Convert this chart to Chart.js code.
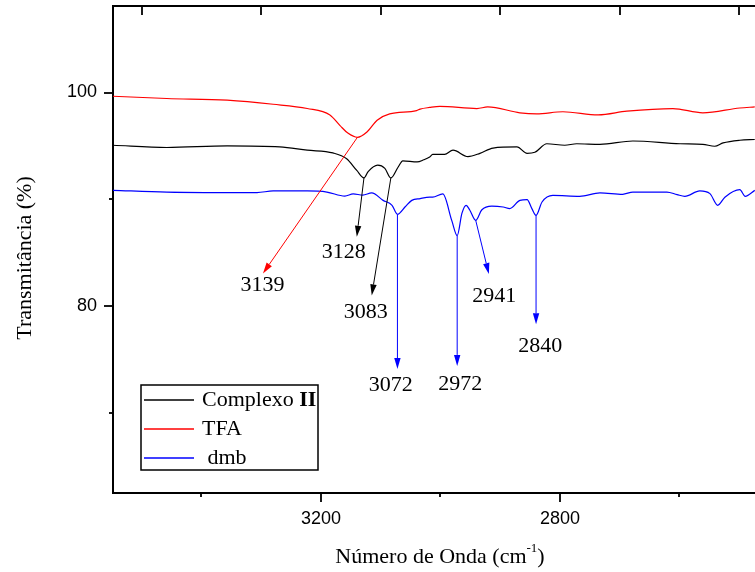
<!DOCTYPE html>
<html>
<head>
<meta charset="utf-8">
<script src="https://cdn.jsdelivr.net/npm/chart.js@4.4.1/dist/chart.umd.min.js"></script>
<style>
  html, body { margin: 0; padding: 0; background: #fff; }
  canvas { display: block; }
</style>
</head>
<body>
<canvas id="ir" width="755" height="572"></canvas>
<script>
// IR spectra, 3550-2470 cm-1 region (wavenumber axis reversed)

// --- data ---
const wnComplexo = [3548, 3458, 3357, 3269, 3223, 3180, 3157, 3140, 3128, 3121, 3105, 3093, 3083, 3071, 3063,
  3039, 3028, 3018, 3013, 2993, 2979, 2954, 2934, 2912, 2872, 2855, 2842, 2822, 2792, 2772, 2733, 2678,
  2599, 2561, 2541, 2527, 2499, 2474];
const tComplexo = [95.06, 94.85, 95.0, 94.9, 94.6, 94.34, 93.8, 92.7, 92.0, 92.6, 93.2, 92.9, 92.0, 93.0, 93.6,
  93.5, 93.7, 93.97, 94.2, 94.2, 94.6, 94.0, 94.3, 94.8, 94.9, 94.3, 94.4, 95.2, 95.06, 95.2, 95.15, 95.46,
  95.2, 95.15, 94.97, 95.28, 95.53, 95.6];

const wnTFA = [3548, 3458, 3357, 3280, 3223, 3185, 3168, 3155, 3139, 3123, 3106, 3085, 3040, 3034, 3018,
  3001, 2939, 2921, 2867, 2839, 2795, 2736, 2688, 2611, 2561, 2499, 2474];
const tTFA = [99.65, 99.44, 99.28, 98.9, 98.5, 97.9, 96.9, 96.2, 95.8, 96.3, 97.4, 98.0, 98.3, 98.45, 98.6,
  98.7, 98.5, 98.65, 98.1, 98.0, 98.2, 97.9, 98.25, 98.5, 98.1, 98.55, 98.65];

const wnDmb = [3548, 3458, 3307, 3280, 3223, 3190, 3160, 3146, 3130, 3115, 3096, 3081, 3072, 3059, 3048,
  3034, 3018, 3013, 2996, 2981, 2972, 2964, 2957, 2951, 2941, 2931, 2914, 2895, 2884, 2867, 2855, 2847,
  2840, 2830, 2812, 2767, 2733, 2695, 2678, 2621, 2604, 2591, 2566, 2549, 2536, 2524, 2499, 2490, 2474];
const tDmb = [90.84, 90.68, 90.63, 90.78, 90.78, 90.68, 90.3, 90.5, 90.4, 90.6, 89.9, 89.44, 88.6, 89.3, 89.9,
  90.07, 90.2, 90.2, 90.5, 88.0, 86.6, 88.7, 89.44, 89.0, 88.03, 89.0, 89.37, 89.28, 89.13, 89.9, 89.97, 89.13,
  88.5, 89.75, 90.37, 90.28, 90.6, 90.47, 90.68, 90.68, 90.44, 90.28, 90.78, 90.53, 89.44, 90.2, 90.9, 90.28, 90.84];

const seriesNames = ['Complexo II', 'TFA', ' dmb'];

// peak annotations (data units)
const peakLabels = ['3139', '3128', '3083', '3072', '2972', '2941', '2840'];
const peakSeries = [1, 0, 0, 2, 2, 2, 2];
const peakWn     = [3139, 3128, 3083, 3072, 2972, 2941, 2840];
const peakT      = [95.8, 92.0, 92.0, 88.6, 86.6, 88.03, 88.5];
const arrowEndWn = [3297, 3140, 3115, 3072, 2972, 2919, 2840];
const arrowEndT  = [83.06, 86.5, 81.0, 74.1, 74.4, 83.0, 78.3];
const labelWn    = [3298, 3162, 3125, 3083, 2967, 2910, 2833];
const labelT     = [82.0, 85.0, 79.4, 72.55, 72.7, 80.9, 76.2];

// axes
const xMin = 2473.6, xMax = 3548;
const yMin = 62.5, yMax = 108.1;
const xMajor = [3200, 2800];
const yMajor = [100, 80];
const xTopTicks = [3500, 3300, 3100, 2900, 2700, 2500];

const COLORS = ['#000000', '#ff0000', '#0000ff'];
const SERIF = '"Liberation Serif", "Times New Roman", serif';
const SANS = '"Liberation Sans", Arial, sans-serif';

const toPoints = (xs, ys) => xs.map((x, i) => ({ x, y: ys[i] }));

// outward ticks (bottom/left) and inward ticks on the top axis
const tickPlugin = {
  id: 'irTicks',
  afterDraw(chart) {
    const { ctx, chartArea: a, scales } = chart;
    ctx.save();
    ctx.strokeStyle = '#000';
    ctx.lineWidth = 1.8;
    const seg = (x0, y0, x1, y1) => { ctx.beginPath(); ctx.moveTo(x0, y0); ctx.lineTo(x1, y1); ctx.stroke(); };
    scales.x.ticks.forEach(t => {
      const px = Math.round(scales.x.getPixelForValue(t.value));
      seg(px, a.bottom, px, a.bottom + (xMajor.includes(t.value) ? 9 : 4));
    });
    scales.xTop.ticks.forEach(t => {
      const px = Math.round(scales.xTop.getPixelForValue(t.value));
      seg(px, a.top, px, a.top + 9);
    });
    scales.y.ticks.forEach(t => {
      const py = Math.round(scales.y.getPixelForValue(t.value));
      seg(a.left - (yMajor.includes(t.value) ? 9 : 4), py, a.left, py);
    });
    ctx.restore();
  }
};

// peak arrows + labels
const arrowPlugin = {
  id: 'irArrows',
  afterDatasetsDraw(chart) {
    const { ctx, scales: { x, y } } = chart;
    ctx.save();
    peakLabels.forEach((lab, i) => {
      const col = COLORS[peakSeries[i]];
      const x0 = x.getPixelForValue(peakWn[i]), y0 = y.getPixelForValue(peakT[i]);
      const x1 = x.getPixelForValue(arrowEndWn[i]), y1 = y.getPixelForValue(arrowEndT[i]);
      const ang = Math.atan2(y1 - y0, x1 - x0);
      const hl = 11, hw = 3.2;
      const bx = x1 - hl * Math.cos(ang), by = y1 - hl * Math.sin(ang);
      ctx.strokeStyle = col; ctx.fillStyle = col; ctx.lineWidth = 1;
      ctx.beginPath(); ctx.moveTo(x0, y0); ctx.lineTo(bx, by); ctx.stroke();
      ctx.beginPath();
      ctx.moveTo(x1, y1);
      ctx.lineTo(bx + hw * Math.sin(ang), by - hw * Math.cos(ang));
      ctx.lineTo(bx - hw * Math.sin(ang), by + hw * Math.cos(ang));
      ctx.closePath(); ctx.fill();

      ctx.fillStyle = '#000';
      ctx.font = '22px ' + SERIF;
      ctx.textAlign = 'center'; ctx.textBaseline = 'middle';
      ctx.fillText(lab, x.getPixelForValue(labelWn[i]), y.getPixelForValue(labelT[i]));
    });
    ctx.restore();
  }
};

// axis titles and boxed legend
const decoPlugin = {
  id: 'irDeco',
  afterDraw(chart) {
    const { ctx, chartArea: a } = chart;
    ctx.save();
    ctx.fillStyle = '#000';
    ctx.textBaseline = 'middle';

    // y title
    ctx.save();
    ctx.translate(25, 258);
    ctx.rotate(-Math.PI / 2);
    ctx.font = '22px ' + SERIF;
    ctx.textAlign = 'center';
    ctx.fillText('Transmitância (%)', 0, 0);
    ctx.restore();

    // x title with superscript
    const p1 = 'Número de Onda (cm', sup = '-1', p2 = ')';
    ctx.font = '22px ' + SERIF;
    const w1 = ctx.measureText(p1).width, w3 = ctx.measureText(p2).width;
    ctx.font = '13px ' + SERIF;
    const w2 = ctx.measureText(sup).width;
    const cx = (a.left + a.right) / 2 + 6, cy = 557;
    let tx = cx - (w1 + w2 + w3) / 2;
    ctx.textAlign = 'left';
    ctx.font = '22px ' + SERIF;
    ctx.fillText(p1, tx, cy); tx += w1;
    ctx.font = '13px ' + SERIF;
    ctx.fillText(sup, tx, cy - 8); tx += w2;
    ctx.font = '22px ' + SERIF;
    ctx.fillText(p2, tx, cy);

    // legend
    const lx = a.left + 28, ly = 385, lw = 177, lh = 85, rowH = 29;
    ctx.strokeStyle = '#000'; ctx.lineWidth = 1.5;
    ctx.strokeRect(lx, ly, lw, lh);
    chart.data.datasets.forEach((ds, i) => {
      const ry = ly + 15 + i * rowH;
      ctx.strokeStyle = ds.borderColor; ctx.lineWidth = 1.3;
      ctx.beginPath(); ctx.moveTo(lx + 3, ry); ctx.lineTo(lx + 53, ry); ctx.stroke();
      const name = ds.label;
      ctx.fillStyle = '#000';
      let nx = lx + 61;
      if (name.endsWith(' II')) {
        const base = name.slice(0, -2);
        ctx.font = '22px ' + SERIF;
        ctx.fillText(base, nx, ry); nx += ctx.measureText(base).width;
        ctx.font = 'bold 22px ' + SERIF;
        ctx.fillText('II', nx, ry);
      } else {
        ctx.font = '22px ' + SERIF;
        ctx.fillText(name, nx, ry);
      }
    });
    ctx.restore();
  }
};

const lineDs = (label, pts, color) => ({
  label, data: pts, borderColor: color, backgroundColor: color,
  borderWidth: 1.2, pointRadius: 0, cubicInterpolationMode: 'monotone', fill: false
});

// drop the label-overflow padding Chart.js adds around each scale
const noPad = s => { s.paddingTop = 0; s.paddingBottom = 0; s.paddingLeft = 0; s.paddingRight = 0; };

new Chart(document.getElementById('ir'), {
  type: 'line',
  data: {
    datasets: [
      lineDs(seriesNames[0], toPoints(wnComplexo, tComplexo), COLORS[0]),
      lineDs(seriesNames[1], toPoints(wnTFA, tTFA), COLORS[1]),
      lineDs(seriesNames[2], toPoints(wnDmb, tDmb), COLORS[2]),
    ]
  },
  options: {
    responsive: false,
    animation: false,
    layout: { padding: { left: 0, right: 0, top: 6, bottom: 0 } },
    plugins: { legend: { display: false }, tooltip: { enabled: false } },
    scales: {
      x: {
        type: 'linear', position: 'bottom', reverse: true, min: xMin, max: xMax,
        grid: { display: false },
        border: { display: true, color: '#000', width: 2 },
        ticks: {
          stepSize: 200, includeBounds: false, autoSkip: false, maxRotation: 0,
          color: '#000', font: { family: SANS, size: 18 }, padding: 7,
          callback: v => xMajor.includes(v) ? String(v) : ''
        },
        afterFit: s => { s.height = 79; noPad(s); }
      },
      xTop: {
        type: 'linear', position: 'top', reverse: true, min: xMin, max: xMax,
        grid: { display: false },
        border: { display: true, color: '#000', width: 2 },
        ticks: { display: false },
        afterBuildTicks: s => { s.ticks = xTopTicks.map(value => ({ value })); },
        afterFit: s => { s.height = 0; noPad(s); }
      },
      y: {
        type: 'linear', min: yMin, max: yMax,
        grid: { display: false },
        border: { display: true, color: '#000', width: 2 },
        ticks: {
          stepSize: 10, includeBounds: false, autoSkip: false,
          color: '#000', font: { family: SANS, size: 18 }, padding: 8,
          callback: v => yMajor.includes(v) ? String(v) : ''
        },
        afterFit: s => { s.width = 113; noPad(s); }
      }
    }
  },
  plugins: [tickPlugin, arrowPlugin, decoPlugin]
});
</script>
</body>
</html>
